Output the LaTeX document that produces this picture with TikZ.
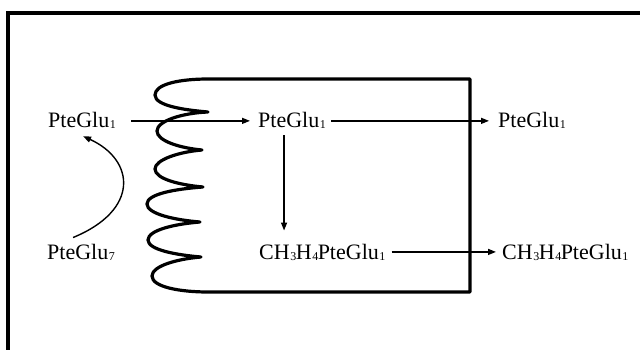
\documentclass[tikz,border=0pt]{standalone}
\usepackage{fontspec}
\setmainfont{Liberation Serif}
\usetikzlibrary{arrows.meta,calc}
\newcommand{\sbx}[1]{\kern0.6pt\raisebox{-1pt}{\fontsize{12}{12}\selectfont #1}}
\tikzset{
  lbl/.style={inner sep=0pt, anchor=base west, font=\fontsize{22}{26}\selectfont},
  arr/.style={line width=1.4pt, -{Triangle[length=8pt,width=6pt]}},
  frame/.style={line width=4pt},
  cell/.style={line width=3.2pt, line join=round, line cap=round},
}
\begin{document}
\begin{tikzpicture}[x=1pt,y=-1pt]
\useasboundingbox (0,0) rectangle (640,350);
\fill[white] (0,0) rectangle (640,350);
% outer frame
\draw[frame] (8,352) -- (8,13) -- (642,13);
% cell with wavy membrane
\draw[cell] (208,79)
  .. controls (180,79) and (155,84) .. (155,95)
  .. controls (155,106) and (185,110) .. (208,112)
  .. controls (182,113) and (157,121) .. (157,131)
  .. controls (157,141) and (180,148) .. (202,150)
  .. controls (178,152) and (155,160) .. (155,169)
  .. controls (155,179) and (180,185) .. (203,187)
  .. controls (175,189) and (147,194) .. (147,204)
  .. controls (147,214) and (175,220) .. (200,222)
  .. controls (175,224) and (148,230) .. (148,240)
  .. controls (148,250) and (177,255) .. (201,257)
  .. controls (177,259) and (152,266) .. (152,276)
  .. controls (152,287) and (180,292) .. (208,292)
  -- (470,292) -- (470,79) -- cycle;
% labels
\node[lbl] (a) at (48,128) {PteGlu\sbx{1}};
\node[lbl] (b) at (258,128) {PteGlu\sbx{1}};
\node[lbl] (d) at (498,128) {PteGlu\sbx{1}};
\node[lbl] (g) at (47,259) {PteGlu\sbx{7}};
\node[lbl] (c) at (259,259) {CH\sbx{3}\kern-0.6ptH\sbx{4}\kern-0.5ptPteGlu\sbx{1}};
\node[lbl] (e) at (502,259) {CH\sbx{3}\kern-0.6ptH\sbx{4}\kern-0.5ptPteGlu\sbx{1}};
% arrows
\draw[arr] ($(a.east)+(15,0)$) -- ($(b.west)+(-8,0)$);
\draw[arr] ($(b.east)+(5,0)$) -- ($(d.west)+(-9,0)$);
\draw[arr] ($(c.east)+(6,0)$) -- ($(e.west)+(-6,0)$);
\draw[arr] ($(b.south)+(-8,6)$) -- ($(b.south |- c.north)+(-8,-13)$);
\draw[arr] ($(g.north)+(-8,-6)$) .. controls (140,210) and (135,160) .. ($(a.south)+(1,7)$);
\end{tikzpicture}
\end{document}
